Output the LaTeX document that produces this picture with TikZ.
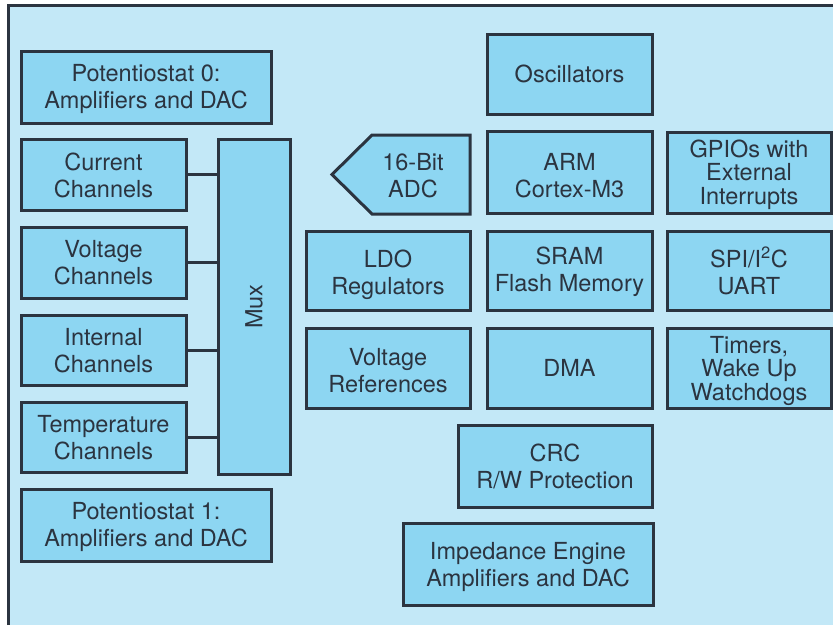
\documentclass[tikz,border=0pt]{standalone}
\usepackage{fontspec}
\setmainfont{TeX Gyre Heros}
\definecolor{bgc}{HTML}{C3E8F7}
\definecolor{boxc}{HTML}{8DD6F2}
\definecolor{ink}{HTML}{2B3440}
\newcommand\blkbox[8][]{\node[blk,minimum width={#5-#3},minimum height={#6-#4}] (#2) at ({(#3+#5)/2},{(#4+#6)/2}) {};
  \node[txt,#1] (#2-t) at ([yshift=-#7pt]#2.center) {#8};}
\begin{document}
\begin{tikzpicture}[x=1pt,y=-1pt,
  blk/.style={draw=ink,fill=boxc,line width=3pt,inner sep=0pt},
  txt/.style={inner sep=0pt,align=center,text=ink,font=\fontsize{23.5}{27}\selectfont},
  tight/.style={font=\fontsize{23.5}{23.5}\selectfont},
  conn/.style={draw=ink,line width=3pt}]
\useasboundingbox (0,0) rectangle (833,625);
\fill[bgc] (7,4) rectangle (833,625);
\draw[ink,line width=3pt] (8.5,625) -- (8.5,5.5) -- (833,5.5);
% left column
\blkbox{pot0}{21}{51}{271}{123}{1.5}{Potentiostat 0:\\Amplifiers and DAC}
\blkbox{cur}{21}{139}{186}{210}{0.5}{Current\\Channels}
\blkbox{vol}{21}{227}{186}{298}{0.5}{Voltage\\Channels}
\blkbox{int}{21}{315}{186}{385}{0.5}{Internal\\Channels}
\blkbox{tmp}{21}{402}{186}{472}{0.5}{Temperature\\Channels}
\blkbox{pot1}{21}{489}{271}{561}{1.5}{Potentiostat 1:\\Amplifiers and DAC}
\blkbox{mux}{218}{139}{290}{474}{0}{}
\node[txt,rotate=90] (muxl) at (mux.center) {Mux};
\foreach \n in {cur,vol,int,tmp}{\draw[conn] (\n.east) -- (\n.east -| mux.west);}
% ADC pentagon
\coordinate (adctl) at (372,135);
\coordinate (adctr) at (470,135);
\coordinate (adcbr) at (470,214);
\coordinate (adcbl) at (372,214);
\coordinate (adctip) at (332,174.5);
\filldraw[fill=boxc,draw=ink,line width=3pt,line join=miter] (adctl) -- (adctr) -- (adcbr) -- (adcbl) -- (adctip) -- cycle;
\node[txt] (adc) at (413,175.5) {16-Bit\\ADC};
% middle and right
\blkbox{osc}{487}{34}{652}{114}{-0.5}{Oscillators}
\blkbox{arm}{487}{131}{652}{213}{4}{ARM\\Cortex-M3}
\blkbox[tight]{gpio}{667}{132}{831}{213}{2}{GPIOs with\\External\\Interrupts}
\blkbox{ldo}{306}{231}{470}{310}{4.5}{LDO\\Regulators}
\blkbox{sram}{487}{231}{652}{310}{1}{SRAM\\Flash Memory}
\blkbox{spi}{667}{231}{831}{310}{0}{SPI/I\textsuperscript{2}C\\UART}
\blkbox{vref}{306}{328}{470}{408}{3}{Voltage\\References}
\blkbox{dma}{487}{328}{652}{408}{0}{DMA}
\blkbox[tight]{tim}{667}{328}{831}{408}{2.5}{Timers,\\Wake Up\\Watchdogs}
\blkbox{crc}{458}{425}{652}{507}{0}{CRC\\R/W Protection}
\blkbox{imp}{403}{523}{653}{605}{2.5}{Impedance Engine\\Amplifiers and DAC}
\end{tikzpicture}
\end{document}
